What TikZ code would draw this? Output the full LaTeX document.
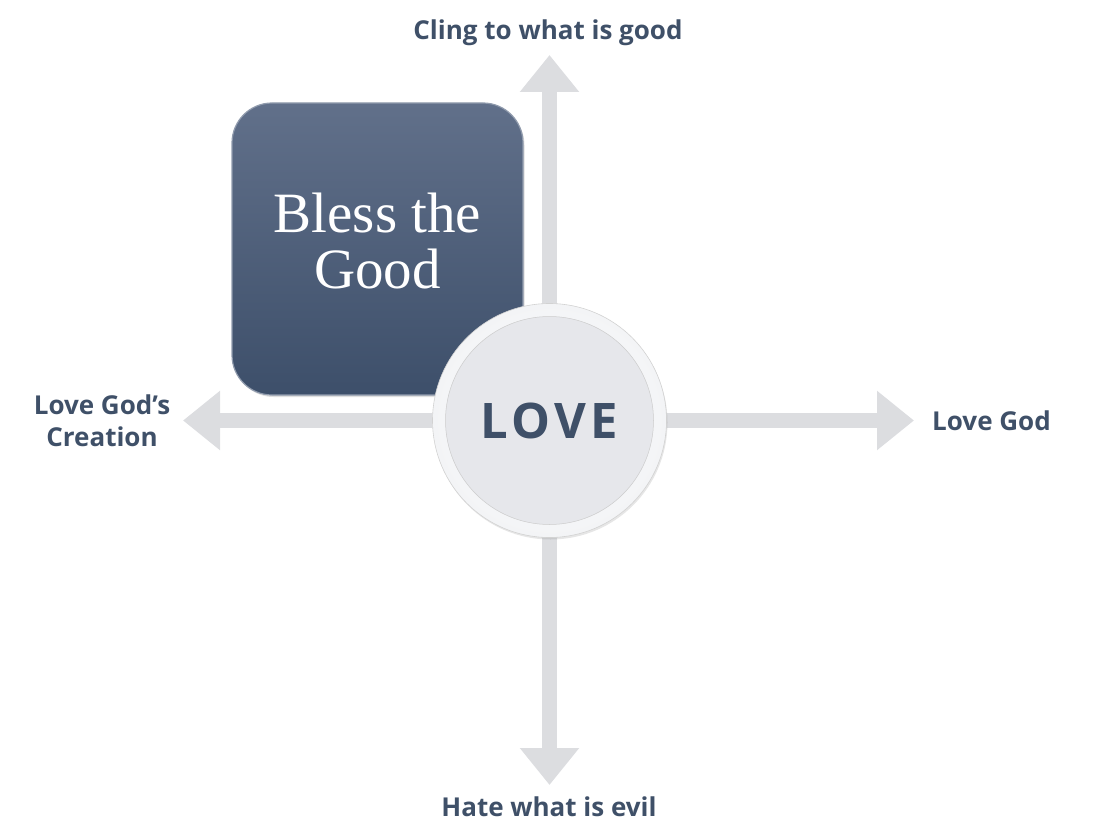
\documentclass[tikz,border=0pt]{standalone}
\usepackage{fontspec}
\setmainfont{Liberation Serif}
\newfontfamily\labelfont{Open Sans}
\newfontfamily\lovefont[LetterSpace=9]{Open Sans}
\usetikzlibrary{arrows.meta,shadows}
\definecolor{ink}{HTML}{3F5068}
\definecolor{axisgray}{HTML}{DCDDE0}
\definecolor{sqtop}{HTML}{61708A}
\definecolor{sqbot}{HTML}{3D4F6A}
\definecolor{disc}{HTML}{E6E7EB}
\definecolor{rim}{HTML}{F3F4F6}
\tikzset{
  axis/.style={line width=15pt, draw=axisgray, -{Triangle[width=57pt,length=37pt]}},
  label/.style={font=\labelfont\bfseries\fontsize{26}{32}\selectfont, text=ink, align=center, inner sep=0pt},
  blessbox/.style={rounded corners=40pt, minimum width=291pt, minimum height=292pt,
    top color=sqtop, bottom color=sqbot, draw=sqtop!70!white, line width=1.2pt,
    text=white, align=center, font=\fontsize{57}{58}\selectfont,
    drop shadow={opacity=0.25, shadow xshift=1.5pt, shadow yshift=-2pt}},
  outerdisc/.style={circle, minimum size=234pt, inner sep=0pt, inner color=white, outer color=rim, draw=gray!35, line width=0.6pt,
    drop shadow={opacity=0.2, shadow xshift=1pt, shadow yshift=-2pt}},
  innerdisc/.style={circle, minimum size=208pt, inner sep=0pt, fill=disc, draw=gray!40, line width=0.5pt,
    text=ink, font=\lovefont\bfseries\fontsize{49}{49}\selectfont}
}
\begin{document}
\begin{tikzpicture}[x=1pt,y=-1pt]
\useasboundingbox (0,0) rectangle (1100,840);
\coordinate (c) at (549.5,420.5);
\coordinate (top) at (549.5,55);
\coordinate (bottom) at (549.5,785);
\coordinate (left) at (183,420.5);
\coordinate (right) at (914,420.5);
\draw[axis] (c) -- (top);
\draw[axis] (c) -- (bottom);
\draw[axis] (c) -- (left);
\draw[axis] (c) -- (right);
\node[blessbox] (bless) at (377.5,249) {\raisebox{4pt}{\begin{tabular}{@{}c@{}}Bless the\\[-2pt]Good\end{tabular}}};
\node[outerdisc] (loveout) at (c) {};
\node[innerdisc] (love) at (c) {LOVE};
\node[label] (up) at (548,33) {Cling to what is good};
\node[label] (down) at (549,807) {Hate what is evil};
\node[label, anchor=west] (east) at (932,421) {Love God};
\node[label] (west) at (102,421) {Love God’s\\Creation};
\end{tikzpicture}
\end{document}
